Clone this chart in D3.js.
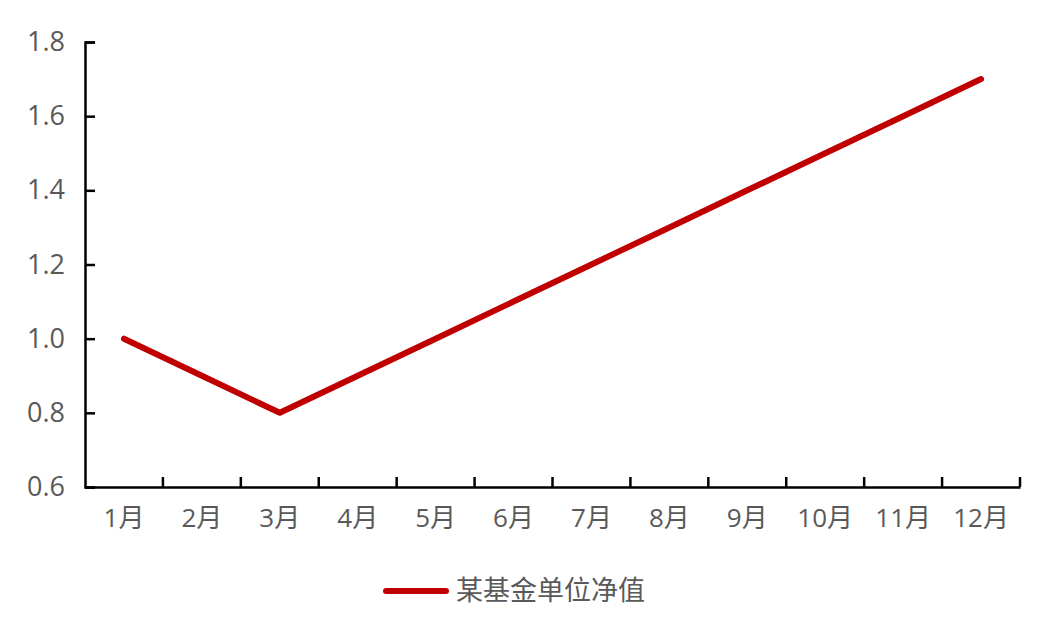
<!DOCTYPE html>
<html><head><meta charset="utf-8">
<script src="https://cdn.jsdelivr.net/npm/d3@7"></script>
<style>body{margin:0;background:#fff}svg{display:block}</style>
</head><body>
<script>
const categories = ["1月","2月","3月","4月","5月","6月","7月","8月","9月","10月","11月","12月"];
const values = [1.0,0.9,0.8,0.9,1.0,1.1,1.2,1.3,1.4,1.5,1.6,1.7];
const yTicks = [0.6,0.8,1.0,1.2,1.4,1.6,1.8];
const seriesName = "某基金单位净值";

const W=1044,H=626;
const m={l:85,r:24,t:42,b:139};
const svg=d3.select("body").append("svg").attr("width",W).attr("height",H);
const x=d3.scaleBand().domain(categories).range([m.l,W-m.r]);
const y=d3.scaleLinear().domain([0.6,1.8]).range([H-m.b,m.t]);
const font="'Open Sans','Noto Sans CJK SC',sans-serif";
const grey="#595959";

// y axis
const ya=svg.append("g").attr("transform",`translate(${m.l},0)`)
  .call(d3.axisLeft(y).tickValues(yTicks).tickFormat(d3.format(".1f")).tickSize(-10).tickPadding(20));
ya.select(".domain").attr("stroke","#000").attr("stroke-width",2.5);
ya.selectAll(".tick line").attr("stroke","#000").attr("stroke-width",2.5);
ya.selectAll("text").attr("fill",grey).style("font-family",font).style("font-size","27px");

// x axis
const xa=svg.append("g").attr("transform",`translate(0,${H-m.b})`)
  .call(d3.axisBottom(x).tickSize(0).tickPadding(22));
xa.select(".domain").attr("stroke","#000").attr("stroke-width",2.5);
xa.selectAll("text").attr("fill",grey).style("font-family",font).style("font-size","26px");
const bounds=categories.map(c=>x(c)).concat([x(categories[categories.length-1])+x.bandwidth()]);
xa.selectAll(".btick").data(bounds.slice(1)).enter().append("line").attr("class","btick")
  .attr("x1",d=>d).attr("x2",d=>d).attr("y1",0).attr("y2",-10)
  .attr("stroke","#000").attr("stroke-width",2.5);

// line
const line=d3.line().x((d,i)=>x(categories[i])+x.bandwidth()/2).y(d=>y(d));
svg.append("path").datum(values).attr("d",line).attr("fill","none")
  .attr("stroke","#C00000").attr("stroke-width",6).attr("stroke-linecap","round").attr("stroke-linejoin","round");

// legend
const lg=svg.append("g").attr("transform","translate(0,591)");
lg.append("line").attr("x1",386).attr("x2",446).attr("y1",0).attr("y2",0)
  .attr("stroke","#C00000").attr("stroke-width",6).attr("stroke-linecap","round");
lg.append("text").attr("x",456).attr("y",0).attr("dy","0.35em").text(seriesName)
  .attr("fill",grey).style("font-family",font).style("font-size","27px");
</script>
</body></html>
